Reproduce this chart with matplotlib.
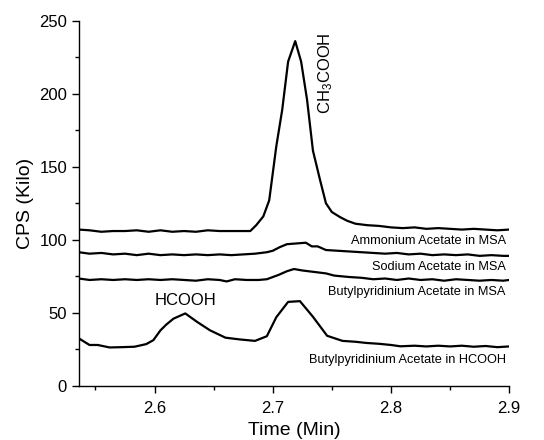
import matplotlib

matplotlib.use("Agg")
import matplotlib.pyplot as plt
from matplotlib.ticker import MultipleLocator

# Chromatogram traces (time in min, CPS in kilo)
amm_t = [2.536, 2.545, 2.555, 2.565, 2.575, 2.585, 2.595, 2.605, 2.615, 2.625,
         2.635, 2.645, 2.655, 2.665, 2.675, 2.681, 2.686, 2.692, 2.697, 2.703,
         2.708, 2.713, 2.719, 2.724, 2.729, 2.734, 2.740, 2.745, 2.750, 2.757,
         2.763, 2.770, 2.780, 2.790, 2.800, 2.810, 2.820, 2.830, 2.840, 2.850,
         2.860, 2.870, 2.880, 2.890, 2.900]
amm_y = [107, 106.5, 105.5, 106, 106, 106.5, 105.5, 106.5, 105.5, 106,
         105.5, 106.5, 106, 106, 106, 106, 110, 116, 127, 164,
         189, 222, 236, 222, 196, 161, 141, 125, 119, 115.5,
         113, 111, 110, 109.5, 108.5, 108, 108.5, 107.5, 108, 107.5,
         107, 107.5, 107, 106.5, 107]

sod_t = [2.536, 2.545, 2.555, 2.565, 2.575, 2.585, 2.595, 2.605, 2.615, 2.625,
         2.635, 2.645, 2.655, 2.665, 2.675, 2.685, 2.695, 2.700, 2.706, 2.712,
         2.720, 2.728, 2.733, 2.738, 2.745, 2.755, 2.765, 2.775, 2.785, 2.795,
         2.805, 2.815, 2.825, 2.835, 2.845, 2.855, 2.865, 2.875, 2.885, 2.895,
         2.900]
sod_y = [91.5, 90.5, 91, 90, 90.5, 89.5, 90.5, 89.5, 90, 89.5,
         90, 89.5, 90, 89.5, 90, 90.5, 91.5, 92.5, 95, 97,
         97.5, 98, 95.5, 95.5, 93, 92.5, 92, 91.5, 91, 90.5,
         91, 90, 90.5, 89.5, 90, 89.5, 90, 89, 89.5, 89,
         89]

bmsa_t = [2.536, 2.545, 2.555, 2.565, 2.575, 2.585, 2.595, 2.605, 2.615, 2.625,
          2.635, 2.645, 2.655, 2.661, 2.668, 2.678, 2.688, 2.695, 2.700, 2.705,
          2.712, 2.718, 2.725, 2.735, 2.745, 2.752, 2.765, 2.775, 2.785, 2.795,
          2.805, 2.815, 2.825, 2.835, 2.845, 2.855, 2.865, 2.875, 2.885, 2.895,
          2.900]
bmsa_y = [73.5, 72.5, 73, 72.5, 73, 72.5, 73, 72.5, 73, 72.5,
          72, 73, 72.5, 71.5, 73, 72.5, 72.5, 73, 74.5, 76,
          78.5, 80, 79, 78, 77, 75.5, 74.5, 74, 73, 73.5,
          72.5, 73.5, 72.5, 73, 72, 73, 72.5, 72, 72.5, 72,
          72.5]

bhc_t = [2.536, 2.545, 2.552, 2.562, 2.572, 2.583, 2.593, 2.599, 2.605, 2.610,
         2.616, 2.626, 2.636, 2.647, 2.660, 2.672, 2.685, 2.695, 2.703, 2.713,
         2.723, 2.734, 2.746, 2.759, 2.770, 2.779, 2.790, 2.800, 2.808, 2.820,
         2.830, 2.840, 2.850, 2.860, 2.870, 2.880, 2.890, 2.900]
bhc_y = [32.5, 28, 28, 26.3, 26.5, 26.8, 28.6, 31.3, 38, 42,
         46, 49.6, 43.8, 38, 33, 31.8, 30.8, 34, 47, 57.5,
         58, 47.3, 34.3, 30.8, 30.2, 29.4, 28.8, 28, 27.1, 27.5,
         27, 27.5, 27, 27.5, 26.8, 27.3, 26.5, 27]

traces = [
    (amm_t, amm_y, "Ammonium Acetate in MSA", 99.5),
    (sod_t, sod_y, "Sodium Acetate in MSA", 81.5),
    (bmsa_t, bmsa_y, "Butylpyridinium Acetate in MSA", 64.5),
    (bhc_t, bhc_y, "Butylpyridinium Acetate in HCOOH", 18),
]

plt.rcParams.update({
    "font.family": ["Liberation Sans", "DejaVu Sans"],
    "mathtext.fontset": "custom",
    "mathtext.rm": "Liberation Sans",
    "mathtext.it": "Liberation Sans:italic",
})

fig = plt.figure(figsize=(5.44, 4.4), dpi=100)
ax = fig.add_axes([0.145, 0.123, 0.791, 0.830])

for t, y, label, ly in traces:
    ax.plot(t, y, color="black", linewidth=1.6)
    ax.text(2.897, ly, label, fontsize=9.2, ha="right", va="center")

ax.text(2.626, 58.5, "HCOOH", fontsize=12, ha="center", va="center")
ax.text(2.7444, 214, r"CH$_\mathregular{3}$COOH", fontsize=12, rotation=90,
        ha="center", va="center")

ax.set_xlim(2.536, 2.9)
ax.set_ylim(0, 250)
ax.xaxis.set_major_locator(MultipleLocator(0.1))
ax.xaxis.set_minor_locator(MultipleLocator(0.05))
ax.yaxis.set_major_locator(MultipleLocator(50))
ax.yaxis.set_minor_locator(MultipleLocator(25))
ax.tick_params(which="major", direction="out", length=5, width=1, labelsize=12)
ax.tick_params(axis="x", which="major", pad=6)
ax.tick_params(which="minor", direction="out", length=3, width=1)
for side in ("top", "right"):
    ax.spines[side].set_visible(False)
for side in ("left", "bottom"):
    ax.spines[side].set_linewidth(1)

ax.set_xlabel("Time (Min)", fontsize=14, labelpad=4)
ax.set_ylabel("CPS (Kilo)", fontsize=14, labelpad=4)

fig.savefig("out.png", dpi=100, facecolor="white")
